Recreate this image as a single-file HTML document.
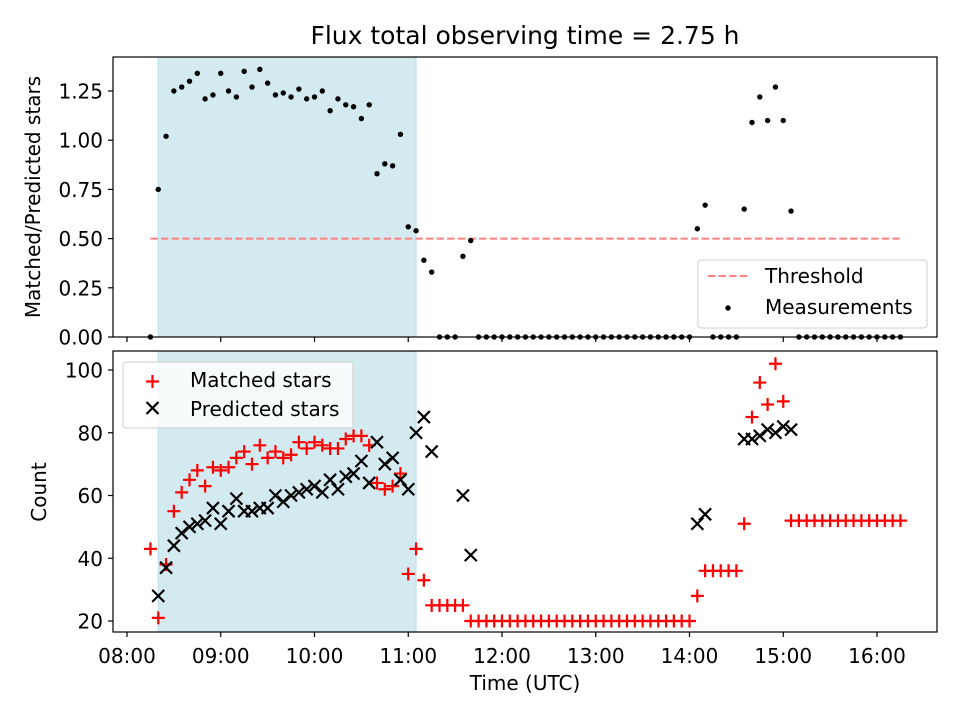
<!DOCTYPE html>
<html><head><meta charset="utf-8"><style>
body{margin:0;background:#fff}
svg{font-family:"DejaVu Sans","Liberation Sans",sans-serif}
</style></head><body>
<svg id="chart" width="960" height="720" viewBox="0 0 960 720" xmlns="http://www.w3.org/2000/svg">
<rect width="960" height="720" fill="#fff"/>
<text x="525" y="44" font-size="25" text-anchor="middle">Flux total observing time = 2.75 h</text>
<g id="topPanel"></g><g id="botPanel"></g>
</svg>
<script>
const times=[15,20,25,30,35,40,45,50,55,60,65,70,75,80,85,90,95,100,105,110,115,120,125,130,135,140,145,150,155,160,165,170,175,180,185,190,195,200,205,210,215,220,225,230,235,240,245,250,255,260,265,270,275,280,285,290,295,300,305,310,315,320,325,330,335,340,345,350,355,360,365,370,375,380,385,390,395,400,405,410,415,420,425,430,435,440,445,450,455,460,465,470,475,480,485,490,495];
const ratio=[0,0.75,1.02,1.25,1.27,1.30,1.34,1.21,1.23,1.34,1.25,1.22,1.35,1.27,1.36,1.29,1.23,1.24,1.22,1.26,1.21,1.22,1.25,1.15,1.21,1.18,1.17,1.11,1.18,0.83,0.88,0.87,1.03,0.56,0.54,0.39,0.33,0,0,0,0.41,0.49,0,0,0,0,0,0,0,0,0,0,0,0,0,0,0,0,0,0,0,0,0,0,0,0,0,0,0,0,0.55,0.67,0,0,0,0,0.65,1.09,1.22,1.10,1.27,1.10,0.64,0,0,0,0,0,0,0,0,0,0,0,0,0,0];
const matched=[43,21,38,55,61,65,68,63,69,68,69,72,74,70,76,72,74,72,73,77,75,77,76,75,75,78,79,79,76,64,62,63,67,35,43,33,25,25,25,25,25,20,20,20,20,20,20,20,20,20,20,20,20,20,20,20,20,20,20,20,20,20,20,20,20,20,20,20,20,20,28,36,36,36,36,36,51,85,96,89,102,90,52,52,52,52,52,52,52,52,52,52,52,52,52,52,52];
const predicted=[null,28,37,44,48,50,51,52,56,51,55,59,55,55,56,56,60,58,60,61,62,63,61,65,62,66,67,71,64,77,70,72,65,62,80,85,74,null,null,null,60,41,null,null,null,null,null,null,null,null,null,null,null,null,null,null,null,null,null,null,null,null,null,null,null,null,null,null,null,null,51,54,null,null,null,null,78,78,79,81,80,82,81,null,null,null,null,null,null,null,null,null,null,null,null,null,null];
const xTicks=[0,60,120,180,240,300,360,420,480];
const xTickLabels=["08:00","09:00","10:00","11:00","12:00","13:00","14:00","15:00","16:00"];
const topTicks=[0,0.25,0.5,0.75,1.0,1.25];
const topTickLabels=["0.00","0.25","0.50","0.75","1.00","1.25"];
const botTicks=[20,40,60,80,100];
const threshold=0.5;
const shadeRange=[20,185];

const NS="http://www.w3.org/2000/svg";
const L=113,R=937,FS=20;
const xs=t=>127+t*1.5625;
const yTop=v=>337-v*196.8;
const yBot=v=>621-(v-20)*3.1375;
function mk(p,tag,a){const e=document.createElementNS(NS,tag);for(const k in a)e.setAttribute(k,a[k]);p.appendChild(e);return e;}
const gTop=document.getElementById('topPanel'),gBot=document.getElementById('botPanel');

function frame(g,T,B,name){
  let s=mk(g,'rect',{x:xs(shadeRange[0]),y:T,width:xs(shadeRange[1])-xs(shadeRange[0]),height:B-T,fill:'#d4eaf1',stroke:'#bcdde7','stroke-width':1});
  
  
}
frame(gTop,57,337,'top');frame(gBot,351,632,'bottom');

let th=mk(gTop,'line',{x1:xs(times[0]),x2:xs(times[times.length-1]),y1:yTop(threshold),y2:yTop(threshold),stroke:'#ff8080','stroke-width':2,'stroke-dasharray':'7.4,3.2'});



times.forEach((t,i)=>{
  const c=mk(gTop,'circle',{cx:xs(t),cy:yTop(ratio[i]),r:2.7,fill:'#000'});
  
  
});
times.forEach((t,i)=>{
  const x=xs(t),y=yBot(matched[i]),d=6.5;
  const p=mk(gBot,'path',{d:`M${x-d},${y}H${x+d}M${x},${y-d}V${y+d}`,stroke:'#f00','stroke-width':2.2,fill:'none'});
  
  
});
times.forEach((t,i)=>{
  if(predicted[i]===null)return;
  const x=xs(t),y=yBot(predicted[i]),d=6;
  const p=mk(gBot,'path',{d:`M${x-d},${y-d}L${x+d},${y+d}M${x-d},${y+d}L${x+d},${y-d}`,stroke:'#000','stroke-width':2.2,fill:'none'});
  
  
});

function axes(g,T,B,name){
  const r=mk(g,'rect',{x:L,y:T,width:R-L,height:B-T,fill:'none',stroke:'#000','stroke-width':1.2});
  
  
  xTicks.forEach(t=>{mk(g,'line',{x1:xs(t),x2:xs(t),y1:B,y2:B+5,stroke:'#000','stroke-width':1.2});});
}
axes(gTop,57,337,'top');axes(gBot,351,632,'bottom');
xTicks.forEach((t,i)=>{
  const tx=mk(gBot,'text',{x:xs(t),y:663,'font-size':FS,'text-anchor':'middle'});tx.textContent=xTickLabels[i];
  
  
});
topTicks.forEach((v,i)=>{
  mk(gTop,'line',{x1:L-5,x2:L,y1:yTop(v),y2:yTop(v),stroke:'#000','stroke-width':1.2});
  const tx=mk(gTop,'text',{x:L-10,y:yTop(v)+7.5,'font-size':FS,'text-anchor':'end'});tx.textContent=topTickLabels[i];
  
  
});
botTicks.forEach(v=>{
  mk(gBot,'line',{x1:L-5,x2:L,y1:yBot(v),y2:yBot(v),stroke:'#000','stroke-width':1.2});
  const tx=mk(gBot,'text',{x:L-10,y:yBot(v)+7.5,'font-size':FS,'text-anchor':'end'});tx.textContent=String(v);
  
  
});
let xl=mk(gBot,'text',{x:525,y:690,'font-size':FS,'text-anchor':'middle'});xl.textContent='Time (UTC)';


let yl1=mk(gTop,'text',{x:0,y:0,'font-size':FS,'text-anchor':'middle',transform:'translate(40,197) rotate(-90)'});yl1.textContent='Matched/Predicted stars';


let yl2=mk(gBot,'text',{x:0,y:0,'font-size':FS,'text-anchor':'middle',transform:'translate(46,492) rotate(-90)'});yl2.textContent='Count';



let lg1=mk(gTop,'g',{});


mk(lg1,'rect',{x:698,y:260,width:229,height:68,rx:3,fill:'#fff','fill-opacity':0.8,stroke:'#ccc'});
mk(lg1,'line',{x1:708,x2:748,y1:276,y2:276,stroke:'#ff8080','stroke-width':2,'stroke-dasharray':'7.4,3.2'});
mk(lg1,'circle',{cx:728,cy:308,r:2.7,fill:'#000'});
let t1=mk(lg1,'text',{x:765,y:283,'font-size':FS});t1.textContent='Threshold';


let t2=mk(lg1,'text',{x:765,y:314,'font-size':FS});t2.textContent='Measurements';



let lg2=mk(gBot,'g',{});


mk(lg2,'rect',{x:123,y:362,width:230,height:66,rx:3,fill:'#fff','fill-opacity':0.8,stroke:'#ccc'});
mk(lg2,'path',{d:'M146,381.5H159M152.5,375V388',stroke:'#f00','stroke-width':2.2});
mk(lg2,'path',{d:'M146.5,402L158.5,414M146.5,414L158.5,402',stroke:'#000','stroke-width':2.2});
let t3=mk(lg2,'text',{x:190,y:387,'font-size':FS});t3.textContent='Matched stars';


let t4=mk(lg2,'text',{x:190,y:416,'font-size':FS});t4.textContent='Predicted stars';


</script>
</body></html>
